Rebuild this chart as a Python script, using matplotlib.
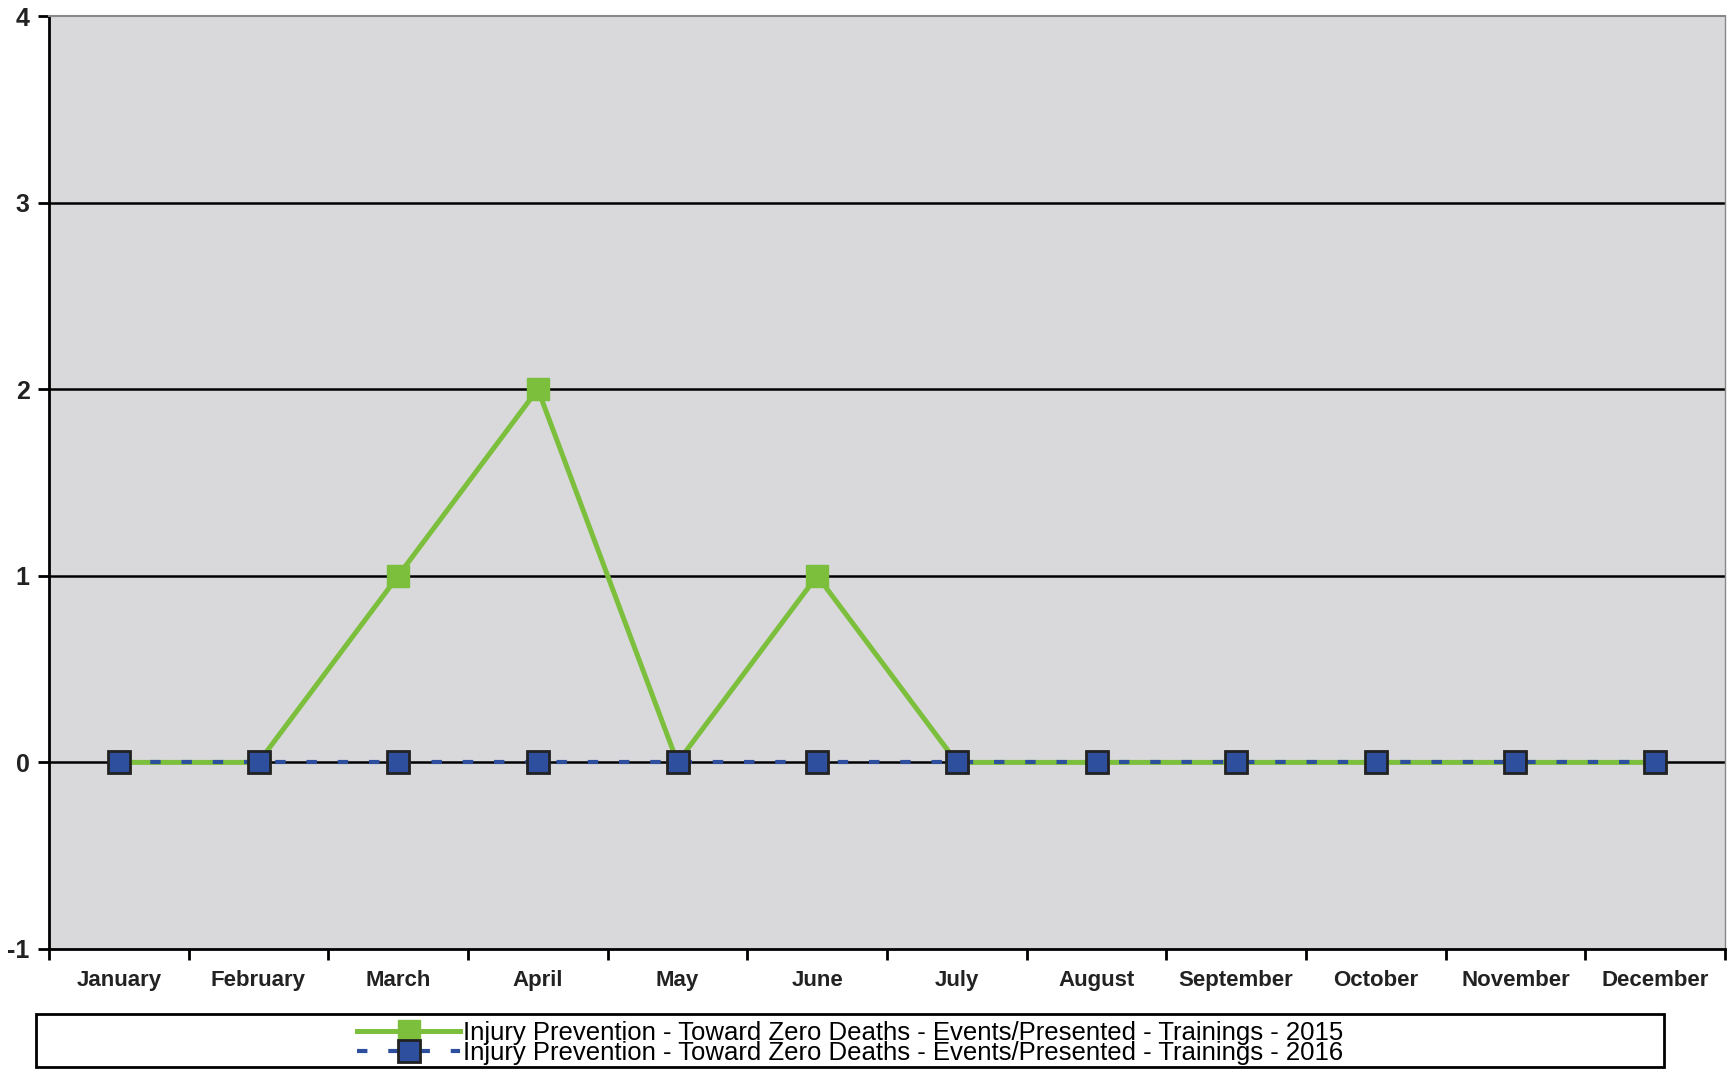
import matplotlib.pyplot as plt
from matplotlib.lines import Line2D
from matplotlib.patches import Rectangle

plt.rcParams["axes.unicode_minus"] = False
plt.rcParams["font.family"] = ["Liberation Sans", "DejaVu Sans"]

months = ["January", "February", "March", "April", "May", "June", "July",
          "August", "September", "October", "November", "December"]
trainings_2015 = [0, 0, 1, 2, 0, 1, 0, 0, 0, 0, 0, 0]
trainings_2016 = [0, 0, 0, 0, 0, 0, 0, 0, 0, 0, 0, 0]
label_2015 = "Injury Prevention - Toward Zero Deaths - Events/Presented - Trainings - 2015"
label_2016 = "Injury Prevention - Toward Zero Deaths - Events/Presented - Trainings - 2016"

green = "#7cbf3c"
blue = "#2d4f9e"
W, H = 1728, 1070

fig = plt.figure(figsize=(W / 100, H / 100), dpi=100)
ax = fig.add_axes([49 / W, 1 - 949 / H, 1676 / W, 933 / H])
ax.set_facecolor("#d9d9dc")

x = range(len(months))
ax.plot(x, trainings_2015, color=green, lw=3.6, marker="s", ms=16,
        mfc=green, mec=green, zorder=3)
ax.plot(x, trainings_2016, color=blue, lw=3, ls=(0, (2.5, 5)), marker="s", ms=16,
        mfc=blue, mec="#222222", mew=2, zorder=4)

ax.set_xlim(-0.5, 11.5)
ax.set_ylim(-1, 4)
ax.set_yticks([-1, 0, 1, 2, 3, 4])
for yv in [0, 1, 2, 3]:
    ax.axhline(yv, color="black", lw=1.8, zorder=1)

ax.set_xticks(x)
ax.set_xticklabels(months, fontweight="bold", fontsize=16, color="#222222")
ax.set_xticks([i - 0.5 for i in range(13)], minor=True)
ax.tick_params(axis="x", which="major", length=0, pad=15)
ax.tick_params(axis="x", which="minor", length=8, width=2, direction="out")
ax.tick_params(axis="y", length=8, width=2, direction="out", labelsize=18, pad=6,
               labelcolor="#222222")
for t in ax.get_yticklabels():
    t.set_fontweight("bold")

ax.spines["left"].set_linewidth(2)
ax.spines["bottom"].set_linewidth(2)
ax.spines["top"].set_color("#888888")
ax.spines["top"].set_linewidth(1.5)
ax.spines["right"].set_color("#888888")
ax.spines["right"].set_linewidth(1)

# legend box
fig.patches.append(Rectangle((36 / W, 1 - 1067 / H), 1628 / W, 53 / H,
                             transform=fig.transFigure, fill=False,
                             edgecolor="black", lw=2))

handles = [
    Line2D([], [], color=green, lw=3.6, marker="s", ms=16, mfc=green, mec=green),
    Line2D([], [], color=blue, lw=3, ls=(0, (2.5, 5)), marker="s", ms=16,
           mfc=blue, mec="#222222", mew=2),
]
fig.legend(handles, [label_2015, label_2016],
           loc="center", bbox_to_anchor=(850 / W, 1 - 1043 / H),
           frameon=False, handlelength=4, handletextpad=0.1, labelspacing=-0.15,
           borderpad=0, prop={"family": "Liberation Sans", "size": 18.5})

fig.savefig("out.png", dpi=100)
